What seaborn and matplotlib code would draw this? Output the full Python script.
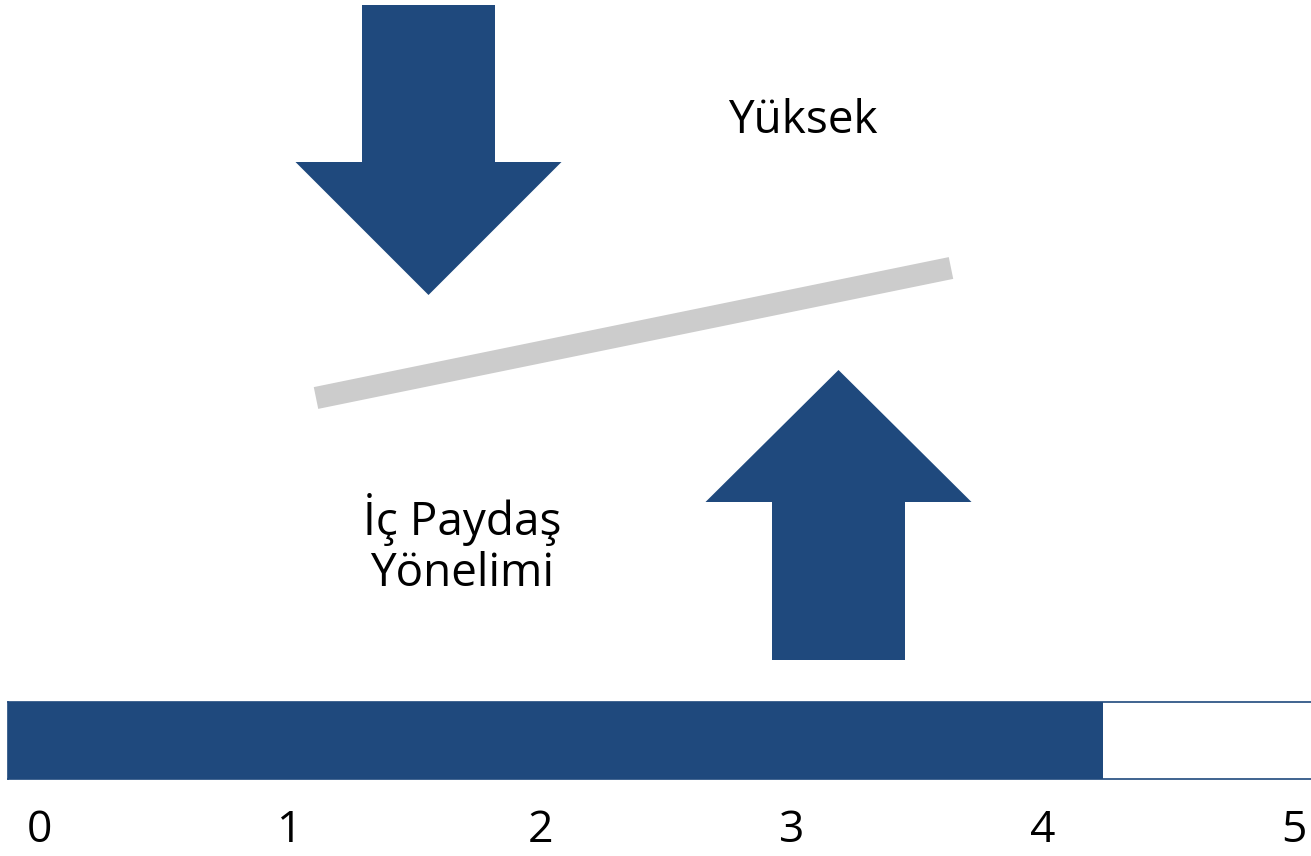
import matplotlib
matplotlib.use('Agg')
import matplotlib.pyplot as plt
import seaborn as sns
from matplotlib.patches import Polygon

# data
tick_values = [0, 1, 2, 3, 4, 5]
tick_labels = ['0', '1', '2', '3', '4', '5']
score = 4.24
top_label = 'Yüksek'
side_label = 'İç Paydaş\nYönelimi'

BLUE = '#1F497D'
GREY = '#CCCCCC'
W, H = 1311, 856

sns.set_theme(style='white')
plt.rcParams['font.family'] = ['Open Sans', 'DejaVu Sans']

fig = plt.figure(figsize=(W / 100, H / 100), dpi=100)

# decoration layer in pixel coordinates
deco = fig.add_axes([0, 0, 1, 1])
deco.set_xlim(0, W)
deco.set_ylim(H, 0)
deco.axis('off')


def block_arrow(ax, cx, tail, tip, shaft_w, head_w, head_base):
    s, h = shaft_w / 2, head_w / 2
    pts = [(cx - s, tail), (cx - s, head_base), (cx - h, head_base), (cx, tip),
           (cx + h, head_base), (cx + s, head_base), (cx + s, tail)]
    ax.add_patch(Polygon(pts, closed=True, color=BLUE, lw=0))


block_arrow(deco, 428.5, 5, 295, 133, 266, 162)
block_arrow(deco, 838.5, 660, 370, 133, 266, 502)

deco.plot([316, 951], [398, 268], color=GREY, lw=16, solid_capstyle='butt')

deco.text(803, 121, top_label, fontsize=33, ha='center', va='center', color='black')
deco.text(462, 545, side_label, fontsize=33, ha='center', va='center',
          color='black', linespacing=1.15)

# score bar
ax = fig.add_axes([8 / W, (H - 779) / H, (W + 4 - 8) / W, (779 - 702) / H])
lo = -0.1235
hi = lo + (W + 4 - 8) / 251
ax.set_xlim(lo, hi)
ax.set_ylim(-0.5, 0.5)
ax.barh(0, score - lo, left=lo, height=1, color=BLUE, lw=0)
ax.set_xticks(tick_values)
ax.set_xticklabels(tick_labels)
ax.set_yticks([])
ax.tick_params(axis='x', length=0, labelsize=32, pad=21, colors='black')
for sp in ax.spines.values():
    sp.set_color(BLUE)
    sp.set_linewidth(1.2)
    sp.set_visible(True)

fig.savefig('out.png', dpi=100)
